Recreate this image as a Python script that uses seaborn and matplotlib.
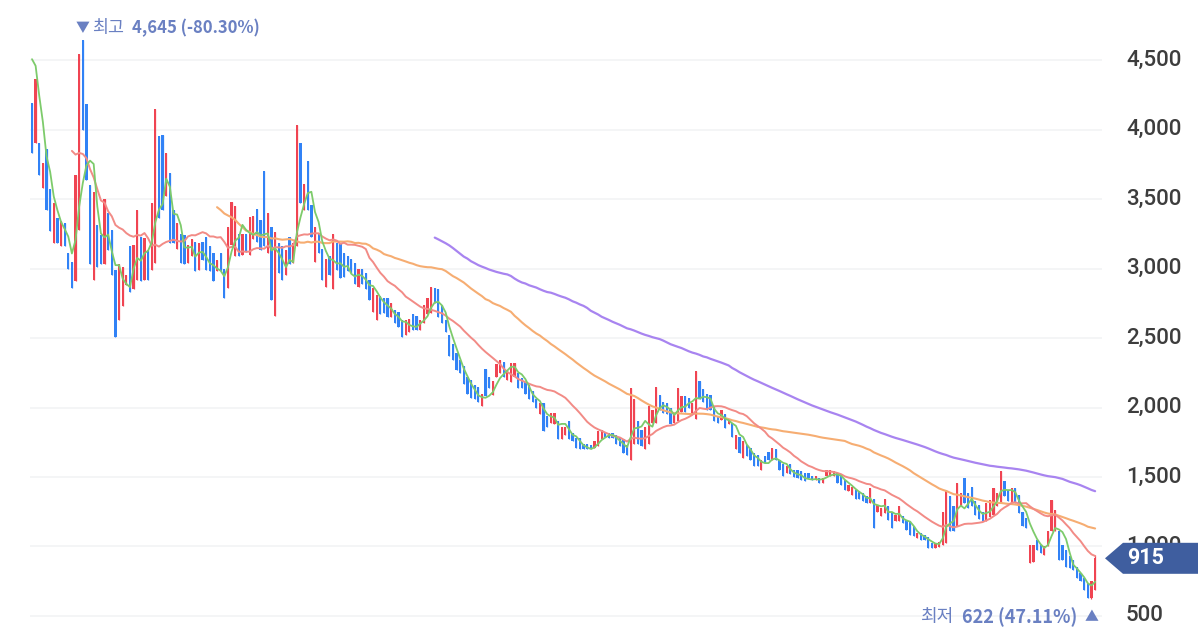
import numpy as np
import pandas as pd
import matplotlib
matplotlib.use("Agg")
import matplotlib.pyplot as plt
from matplotlib.patches import Polygon
from matplotlib.transforms import blended_transform_factory, offset_copy
import seaborn as sns

# ---------------- data ----------------
# closes before the visible window (only used to warm up the moving averages)
pre_closes = [4200, 4300, 4150, 4250, 4600, 4750, 4700, 4650]

opens = [
    4190, 3900, 3900, 3580, 3860, 3570, 3180, 3360, 3160, 3330,
    3110, 3050, 2910, 3280, 4645, 4180, 3600, 2920, 3310, 3240,
    3030, 3400, 3280, 2990, 2630, 2730, 2880, 3160, 2850, 2920,
    3230, 2920, 3130, 2990, 3040, 3950, 3960, 3520, 3690, 3420,
    3140, 3250, 3240, 3040, 3090, 3190, 2990, 3190, 3230, 3160,
    3110, 2980, 3110, 3000, 2860, 3170, 3090, 3250, 3100, 3250,
    3100, 3210, 3430, 3350, 3700, 3110, 3300, 2660, 3180, 3160,
    2950, 3230, 3040, 3160, 3900, 3420, 3770, 3460, 3050, 3250,
    3140, 2870, 3090, 2850, 3180, 3180, 3110, 3090, 3070, 3040,
    2870, 3000, 2970, 2920, 2690, 2630, 2800, 2790, 2790, 2650,
    2700, 2690, 2630, 2520, 2540, 2670, 2660, 2560, 2610, 2670,
    2680, 2860, 2850, 2740, 2630, 2520, 2460, 2390, 2340, 2300,
    2220, 2200, 2160, 2150, 2010, 2280, 2220, 2090, 2220, 2250,
    2330, 2200, 2180, 2220, 2250, 2210, 2180, 2160, 2120, 2060,
    1950, 2030, 1940, 1890, 1880, 1900, 1770, 1800, 1900, 1820,
    1780, 1780, 1740, 1740, 1730, 1710, 1720, 1770, 1820, 1820,
    1820, 1800, 1790, 1770, 1730, 1620, 1740, 1900, 1840, 1700,
    1740, 1890, 1890, 2090, 2040, 2030, 2000, 1890, 1900, 1970,
    2080, 2070, 1950, 1920, 2190, 2130, 2100, 2090, 2010, 1940,
    1910, 1950, 1880, 1890, 1700, 1790, 1640, 1730, 1710, 1670,
    1660, 1550, 1650, 1680, 1620, 1700, 1620, 1590, 1530, 1590,
    1550, 1550, 1540, 1530, 1530, 1505, 1480, 1490, 1460, 1505,
    1505, 1505, 1530, 1505, 1480, 1400, 1370, 1410, 1400, 1385,
    1360, 1315, 1340, 1250, 1220, 1240, 1290, 1240, 1180, 1180,
    1220, 1190, 1180, 1145, 1060, 1100, 1085, 1070, 1025, 990,
    995, 1010, 1025, 1360, 1290, 1145, 1290, 1490, 1385, 1430,
    1325, 1300, 1250, 1180, 1215, 1230, 1290, 1310, 1470, 1410,
    1310, 1420, 1370, 1250, 1205, 880, 890, 1050, 1010, 940,
    1000, 1110, 1110, 1110, 1010, 975, 930, 905, 855, 810,
    775, 735, 630, 690,
]

closes = [
    3830, 4360, 3670, 3760, 3420, 3270, 3470, 3180, 3340, 3160,
    3000, 2860, 3670, 4540, 4000, 3640, 3030, 3550, 3010, 3030,
    3500, 3130, 2950, 2510, 3030, 3010, 2950, 2830, 3170, 3420,
    2910, 3220, 2920, 3470, 4150, 3360, 3420, 3830, 3180, 3180,
    3330, 3040, 3030, 3170, 3210, 2980, 3180, 3060, 2990, 2980,
    2910, 3060, 2980, 2790, 3300, 3480, 3450, 3090, 3250, 3120,
    3370, 3380, 3190, 3130, 3160, 3400, 2770, 3260, 2970, 2920,
    3130, 3030, 3180, 4030, 3470, 3610, 3420, 3230, 3300, 3110,
    2920, 3070, 2950, 3250, 2990, 2930, 2940, 2980, 2970, 2890,
    3000, 2890, 2850, 2770, 2860, 2810, 2670, 2680, 2650, 2750,
    2610, 2580, 2510, 2630, 2640, 2560, 2560, 2630, 2740, 2790,
    2870, 2750, 2650, 2610, 2540, 2370, 2340, 2270, 2250, 2170,
    2100, 2070, 2060, 2040, 2100, 2080, 2140, 2190, 2310, 2340,
    2220, 2270, 2320, 2320, 2140, 2140, 2100, 2060, 2040, 2000,
    2030, 1830, 1860, 1960, 1960, 1770, 1860, 1860, 1770, 1760,
    1710, 1700, 1700, 1700, 1700, 1760, 1830, 1840, 1790, 1780,
    1780, 1740, 1720, 1670, 1660, 2140, 2060, 1740, 1720, 1860,
    2010, 1980, 2150, 1980, 1960, 1950, 1880, 1960, 2140, 2080,
    1970, 2000, 2030, 2260, 2060, 2040, 1980, 1980, 1900, 1890,
    1980, 1850, 1920, 1790, 1800, 1670, 1760, 1650, 1620, 1580,
    1580, 1620, 1600, 1620, 1710, 1620, 1550, 1510, 1580, 1520,
    1500, 1490, 1480, 1470, 1490, 1480, 1505, 1460, 1490, 1550,
    1550, 1540, 1460, 1445, 1410, 1445, 1430, 1340, 1340, 1325,
    1315, 1420, 1130, 1300, 1280, 1340, 1190, 1130, 1230, 1290,
    1170, 1120, 1085, 1075, 1100, 1050, 1050, 990, 990, 1025,
    1035, 1250, 1410, 1110, 1110, 1455, 1385, 1310, 1275, 1290,
    1230, 1195, 1180, 1310, 1335, 1420, 1385, 1540, 1360, 1325,
    1420, 1310, 1240, 1145, 1130, 1010, 1010, 975, 955, 1000,
    1110, 1335, 1265, 905, 905, 855, 845, 830, 775, 750,
    690, 630, 750, 915,
]

wick_highs = {293: 941}
wick_lows = {292: 622}

ma_windows = [5, 20, 60, 120]
ma_colors = ["#7dcb6b", "#f28b86", "#f6ad72", "#a884f0"]
ma_widths = [1.3, 1.4, 1.5, 1.6]

ytick_values = [500, 1000, 1500, 2000, 2500, 3000, 3500, 4000, 4500]
ytick_labels = ["500", "1,000", "1,500", "2,000", "2,500", "3,000", "3,500", "4,000", "4,500"]

last_price = 915
last_label = "915"
high_word, high_text = "최고", "4,645 (-80.30%)"
low_word, low_text = "최저", "622 (47.11%)"

# ---------------- style ----------------
RED = "#f04452"
BLUE = "#3182f6"
ANNOT = "#6a80c2"
TICK = "#3d3d3d"
TAG = "#3f5e9f"
GRID = "#f1f2f4"

sns.set_theme(style="white")
plt.rcParams["font.family"] = ["Noto Sans CJK KR", "DejaVu Sans"]

W, H = 1198, 636
fig = plt.figure(figsize=(W / 100, H / 100), dpi=100)
ax = fig.add_axes([30 / W, 0, 1072 / W, 1])
Y0, Y1 = 356.1, 4931.7
ax.set_ylim(Y0, Y1)
n = len(closes)
ax.set_xlim(-0.55, 294.9)
for s in ax.spines.values():
    s.set_visible(False)
ax.set_xticks([])
ax.set_yticks([])

# gridlines
for v in ytick_values:
    ax.axhline(v, color=GRID, lw=1.1, zorder=0)

# candles
x = np.arange(n)
o = np.array(opens, dtype=float)
c = np.array(closes, dtype=float)
hi = np.maximum(o, c)
lo = np.minimum(o, c)
for k, v in wick_highs.items():
    hi[k] = v
for k, v in wick_lows.items():
    lo[k] = v
colors = np.where(c >= o, RED, BLUE)
body_h = np.maximum(np.abs(c - o), 8)
ax.vlines(x, lo, hi, colors=colors, lw=0.9, zorder=3)
ax.bar(x, body_h, bottom=np.minimum(o, c), width=0.62, color=colors,
       linewidth=0, zorder=3)

# moving averages
full = pd.Series(pre_closes + closes, dtype=float)
df = pd.DataFrame({"idx": x})
for w in ma_windows:
    df[f"ma{w}"] = full.rolling(w).mean().iloc[len(pre_closes):].values
for w, col, lw in zip(ma_windows[::-1], ma_colors[::-1], ma_widths[::-1]):
    d = df[["idx", f"ma{w}"]].dropna()
    sns.lineplot(data=d, x="idx", y=f"ma{w}", ax=ax, color=col, linewidth=lw,
                 zorder=4, legend=False)
ax.set_xlabel("")
ax.set_ylabel("")

# y tick labels on the right
trans_fy = blended_transform_factory(fig.transFigure, ax.transData)
for v, lab in zip(ytick_values, ytick_labels):
    ax.text(1126 / W, v, lab, transform=trans_fy, ha="left", va="center",
            fontsize=16, fontfamily="Roboto", fontweight="medium", color=TICK,
            clip_on=False, zorder=5)

# last price tag
half = 15.5 / (H / (Y1 - Y0))
verts = [(1105 / W, last_price), (1123 / W, last_price + half), (1.0, last_price + half),
         (1.0, last_price - half), (1123 / W, last_price - half)]
tag = Polygon(verts, closed=True, transform=trans_fy, facecolor=TAG,
              edgecolor="none", clip_on=False, zorder=10)
ax.add_patch(tag)
ax.text(1146 / W, last_price, last_label, transform=trans_fy, ha="center",
        va="center", fontsize=15.5, fontfamily="Roboto", fontweight="bold",
        color="white", clip_on=False, zorder=11)

# high / low annotations
trans_xf = blended_transform_factory(ax.transData, fig.transFigure)
hi_idx = int(np.argmax(hi))
lo_idx = int(np.argmin(lo))
yh = 1 - 28 / H
ax.text(hi_idx, yh, "▼", transform=trans_xf, ha="center", va="center",
        fontsize=10, color=ANNOT, clip_on=False)
ax.text(hi_idx, yh, high_word, transform=offset_copy(trans_xf, fig=fig, x=9, units="dots"),
        ha="left", va="center", fontsize=12.5, color=ANNOT, clip_on=False)
ax.text(hi_idx, yh, high_text, transform=offset_copy(trans_xf, fig=fig, x=49, units="dots"),
        ha="left", va="center", fontsize=12, fontweight="bold", color=ANNOT, clip_on=False)

yl = 1 - 617 / H
ax.text(lo_idx, yl, "▲", transform=trans_xf, ha="center", va="center",
        fontsize=10, color=ANNOT, clip_on=False)
ax.text(lo_idx, yl, low_text, transform=offset_copy(trans_xf, fig=fig, x=-14, units="dots"),
        ha="right", va="center", fontsize=13, fontweight="bold", color=ANNOT, clip_on=False)
ax.text(lo_idx, yl, low_word, transform=offset_copy(trans_xf, fig=fig, x=-138, units="dots"),
        ha="right", va="center", fontsize=13, color=ANNOT, clip_on=False)

fig.savefig("out.png", dpi=100, facecolor="white")
